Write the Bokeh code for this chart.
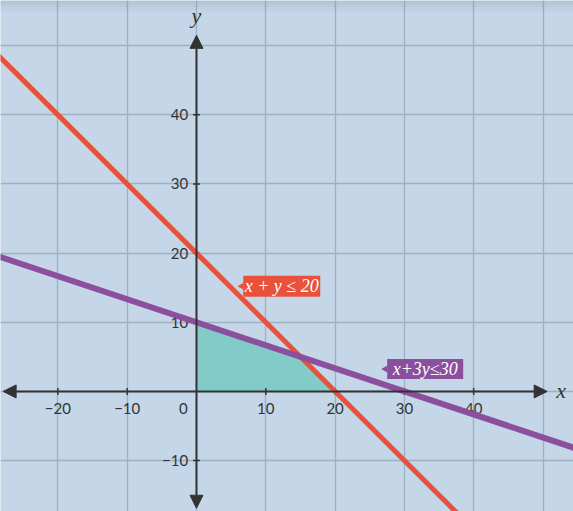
from bokeh.plotting import figure
from bokeh.models import Range1d, Grid, FixedTicker, Arrow, NormalHead
from bokeh.core.properties import value
from bokeh.embed import file_html
from bokeh.resources import INLINE

# ---- data ----
grid_ticks = [-30, -20, -10, 0, 10, 20, 30, 40, 50, 60]
x_tick_vals = [-20, -10, 10, 20, 30, 40]
x_tick_labels = ["\u221220", "\u221210", "10", "20", "30", "40"]
y_tick_vals = [-10, 10, 20, 30, 40]
y_tick_labels = ["\u221210", "10", "20", "30", "40"]

# x + y = 20 (end points)
red_x = [-30, 40]
red_y = [50, -20]
# x + 3y = 30 (end points)
purple_x = [-30, 60]
purple_y = [20, -10]
# feasible region
region_x = [0, 0, 15, 20]
region_y = [0, 10, 5, 0]

label_texts = ["x + y \u2264 20", "x+3y\u226430"]
label_x = [12.3, 33.0]
label_y = [15.2, 3.25]

RED = "#e8513a"
PURPLE = "#8b4f9e"
TEAL = "#83cbc8"
BG = "#c4d6e7"
GRID = "#9eb0c1"
AX = "#333333"

YTOP = 56.54
p = figure(width=573, height=511, x_range=Range1d(-28.28, 54.4),
           y_range=Range1d(-17.37, YTOP), x_axis_type=None, y_axis_type=None,
           output_backend="svg", toolbar_location=None, min_border=0)
p.background_fill_color = BG
p.border_fill_color = BG
p.outline_line_color = None

for dim in (0, 1):
    p.add_layout(Grid(dimension=dim, ticker=FixedTicker(ticks=grid_ticks),
                      grid_line_color=GRID, grid_line_width=1.3))

# subtle shadow at the top edge
band = 0.3
alphas = [0.22, 0.17, 0.12, 0.08, 0.05, 0.02]
for i, a in enumerate(alphas):
    p.quad(left=-40, right=70, top=YTOP - i * band, bottom=YTOP - (i + 1) * band,
           fill_color="#6f8498", fill_alpha=a, line_color=None)

# feasible region
p.patch(region_x, region_y, fill_color=TEAL, line_color=None)

# axes with arrows
p.add_layout(Arrow(x_start=-27.9, y_start=0, x_end=50.6, y_end=0, line_color=AX, line_width=2,
                   start=NormalHead(size=13, fill_color=AX, line_color=AX),
                   end=NormalHead(size=13, fill_color=AX, line_color=AX)))
p.add_layout(Arrow(x_start=0, y_start=-16.9, x_end=0, y_end=51.5, line_color=AX, line_width=2,
                   start=NormalHead(size=13, fill_color=AX, line_color=AX),
                   end=NormalHead(size=13, fill_color=AX, line_color=AX)))

# tick marks
p.scatter(x_tick_vals, [0] * len(x_tick_vals), marker="dash", size=7, angle=1.5708,
          line_color=AX, line_width=1.5)
p.scatter([0] * len(y_tick_vals), y_tick_vals, marker="dash", size=7,
          line_color=AX, line_width=1.5)

# tick labels
FS = "15px"
p.text(x_tick_vals, [-2.45] * len(x_tick_vals), text=x_tick_labels, text_align="center",
       text_baseline="middle", text_font=value("Lato"), text_font_size=FS, text_color=AX)
p.text([-1.2] * len(y_tick_vals), y_tick_vals, text=y_tick_labels, text_align="right",
       text_baseline="middle", text_font=value("Lato"), text_font_size=FS, text_color=AX)
p.text([-1.9], [-2.45], text=["0"], text_align="center", text_baseline="middle",
       text_font=value("Lato"), text_font_size=FS, text_color=AX)

# axis names
p.text([52.6], [0.1], text=["x"], text_align="center", text_baseline="middle",
       text_font=value("Liberation Serif"), text_font_style="italic", text_font_size="22px",
       text_color=AX)
p.text([0], [54.3], text=["y"], text_align="center", text_baseline="middle",
       text_font=value("Liberation Serif"), text_font_style="italic", text_font_size="22px",
       text_color=AX)

# constraint lines
p.line(red_x, red_y, line_color=RED, line_width=5)
p.line(purple_x, purple_y, line_color=PURPLE, line_width=6)

# labels with boxes and pointers
colors = [RED, PURPLE]
widths = [77, 76]
p.rect(label_x, label_y, width=widths, height=[21, 20], width_units="screen",
       height_units="screen", fill_color=colors, line_color=None)
p.scatter([label_x[0] - 5.8, label_x[1] - 5.75], label_y, marker="triangle", size=7,
          angle=1.5708, fill_color=colors, line_color=None)
p.text(label_x, label_y, text=label_texts, text_align="center", text_baseline="middle",
       text_font=value("Liberation Serif"), text_font_style="italic", text_font_size="18px",
       text_color="white")

open("out.html", "w").write(file_html(p, INLINE))
